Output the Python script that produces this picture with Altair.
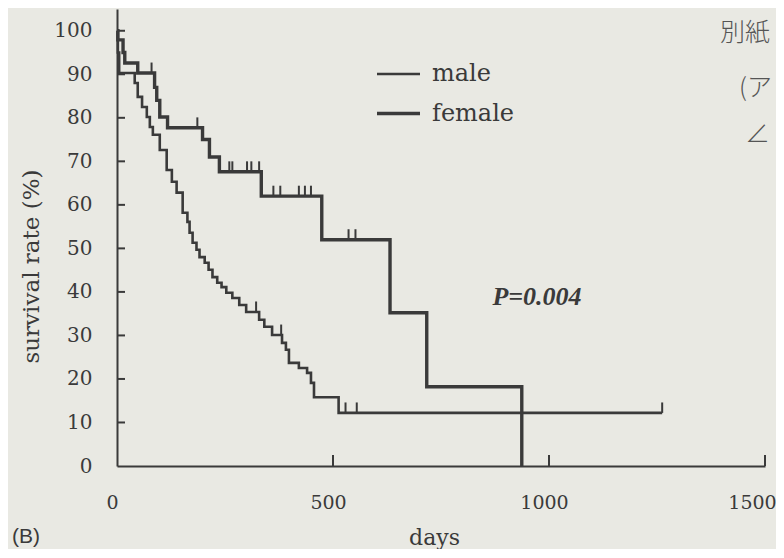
import altair as alt
import pandas as pd

# ---- data ----
male_days = [0, 2, 5, 41, 48, 58, 69, 76, 83, 99, 115, 127, 138, 152, 163, 168, 175,
             184, 191, 203, 212, 221, 232, 242, 253, 267, 283, 299, 329, 341, 359,
             382, 391, 398, 421, 440, 449, 456, 513, 1262]
male_surv = [100, 95, 90.3, 88, 84.8, 82.5, 80.2, 77.9, 76.1, 72.6, 68, 65.3, 62.8,
             58.2, 56.1, 53.6, 51.3, 49.7, 48, 46.7, 45.1, 43.4, 42.1, 41.1, 39.8,
             38.6, 37, 35.4, 33.6, 32, 30.1, 28.3, 26.7, 23.7, 22.5, 21.4, 19.1,
             15.8, 12.2, 12.2]
male_cens_days = [322, 380, 529, 555, 1262]
male_cens_surv = [35.4, 30.1, 12.2, 12.2, 12.2]

female_days = [0, 2, 14, 18, 48, 87, 92, 99, 117, 198, 214, 237, 334, 474, 632, 717, 937]
female_surv = [100, 97.9, 95, 92.6, 90.3, 87, 84, 80.2, 77.7, 75, 71, 67.6, 62, 52,
               35.2, 18.2, 0]
female_cens_days = [80, 186, 260, 267, 301, 311, 329, 362, 378, 421, 435, 449, 536, 552]
female_cens_surv = [90.3, 77.7, 67.6, 67.6, 67.6, 67.6, 67.6, 62, 62, 62, 62, 62, 52, 52]

series = ["male", "female"]
x_ticks = [0, 500, 1000, 1500]
y_ticks = [0, 10, 20, 30, 40, 50, 60, 70, 80, 90, 100]
p_text = "P=0.004"
hand_notes = ["別紙", "(ア", "∠"]

# ---- build tables ----
curves = pd.concat([
    pd.DataFrame({"days": male_days, "surv": male_surv, "sex": "male"}),
    pd.DataFrame({"days": female_days, "surv": female_surv, "sex": "female"}),
])
cens = pd.concat([
    pd.DataFrame({"days": male_cens_days, "surv": male_cens_surv}),
    pd.DataFrame({"days": female_cens_days, "surv": female_cens_surv}),
])

ink = "#3a3a3a"
W, H = 648, 457
serif = "DejaVu Serif"

xscale = alt.Scale(domain=[0, 1500], nice=False, zero=True)
yscale = alt.Scale(domain=[0, 105], nice=False)

xaxis = alt.Axis(values=x_ticks, format="d", ticks=False, grid=False, domainColor=ink,
                 domainWidth=2, labelFont=serif, labelFontSize=19,
                 labelColor=ink, labelPadding=27, labelFlush=False,
                 labelOffset={"condition": {"test": "datum.value == 1500", "value": -13},
                              "value": -5},
                 title="days", titleFont=serif, titleFontSize=22,
                 titleFontWeight="normal", titleColor=ink,
                 titleX=317, titleY=71, titleBaseline="middle")
yaxis = alt.Axis(values=y_ticks, ticks=False, grid=False, domainColor=ink,
                 domainWidth=2, labelFont=serif, labelFontSize=20,
                 labelColor=ink, labelPadding=25,
                 title="survival rate (%)", titleFont=serif, titleFontSize=23,
                 titleFontWeight="normal", titleColor=ink,
                 titleX=-74, titleY=257)

lines = alt.Chart(curves).mark_line(interpolate="step-after", color=ink).encode(
    x=alt.X("days:Q", scale=xscale, axis=xaxis),
    y=alt.Y("surv:Q", scale=yscale, axis=yaxis),
    strokeWidth=alt.StrokeWidth("sex:N",
        scale=alt.Scale(domain=series, range=[2.6, 3.4]),
        legend=alt.Legend(title=None, orient="none", legendX=258, legendY=42,
                          symbolType="stroke", symbolSize=1849,
                          symbolStrokeColor=ink, labelFont=serif, labelFontSize=24,
                          labelColor=ink, labelOffset=10, rowPadding=4, padding=0)),
    order="days:Q",
)

cens_marks = alt.Chart(cens).transform_calculate(top="datum.surv + 2.4").mark_rule(
    color=ink, strokeWidth=2).encode(
    x=alt.X("days:Q", scale=xscale, axis=xaxis),
    y=alt.Y("surv:Q", scale=yscale, axis=yaxis),
    y2="top:Q",
)

yt = alt.Chart(pd.DataFrame({"surv": y_ticks[1:]})).mark_rule(color=ink, strokeWidth=2).encode(
    y=alt.Y("surv:Q", scale=yscale, axis=yaxis), x=alt.value(0), x2=alt.value(8))
xt = alt.Chart(pd.DataFrame({"days": x_ticks[1:]})).mark_rule(color=ink, strokeWidth=2).encode(
    x=alt.X("days:Q", scale=xscale, axis=xaxis), y=alt.value(H), y2=alt.value(H - 11))

ptext = alt.Chart(pd.DataFrame({"t": [p_text]})).mark_text(
    font="Liberation Serif", fontSize=26, fontStyle="italic", fontWeight="bold",
    color=ink, align="center", baseline="middle").encode(
    text="t:N", x=alt.value(420), y=alt.value(288))

btext = alt.Chart(pd.DataFrame({"t": ["(B)"]})).mark_text(
    font="Liberation Sans", fontSize=21, color=ink, align="left", baseline="middle").encode(
    text="t:N", x=alt.value(-105), y=alt.value(528))

hand = alt.Chart(pd.DataFrame({"t": hand_notes, "px": [603, 622, 628], "py": [24, 79, 125]})).mark_text(
    font="Noto Sans CJK JP", fontSize=25, fontWeight=300, color="#555555",
    align="left", baseline="middle").encode(
    text="t:N", x=alt.X("px:Q", scale=None), y=alt.Y("py:Q", scale=None))

chart = alt.layer(lines, cens_marks, yt, xt, ptext, btext, hand).properties(
    width=W, height=H,
    autosize=alt.AutoSizeParams(type="none"),
    padding={"left": 109, "top": 1, "right": 11, "bottom": 83},
    background="#e9e9e3",
).configure_view(stroke=None)

chart.save("out.html", embed_options={"renderer": "svg", "actions": False})
